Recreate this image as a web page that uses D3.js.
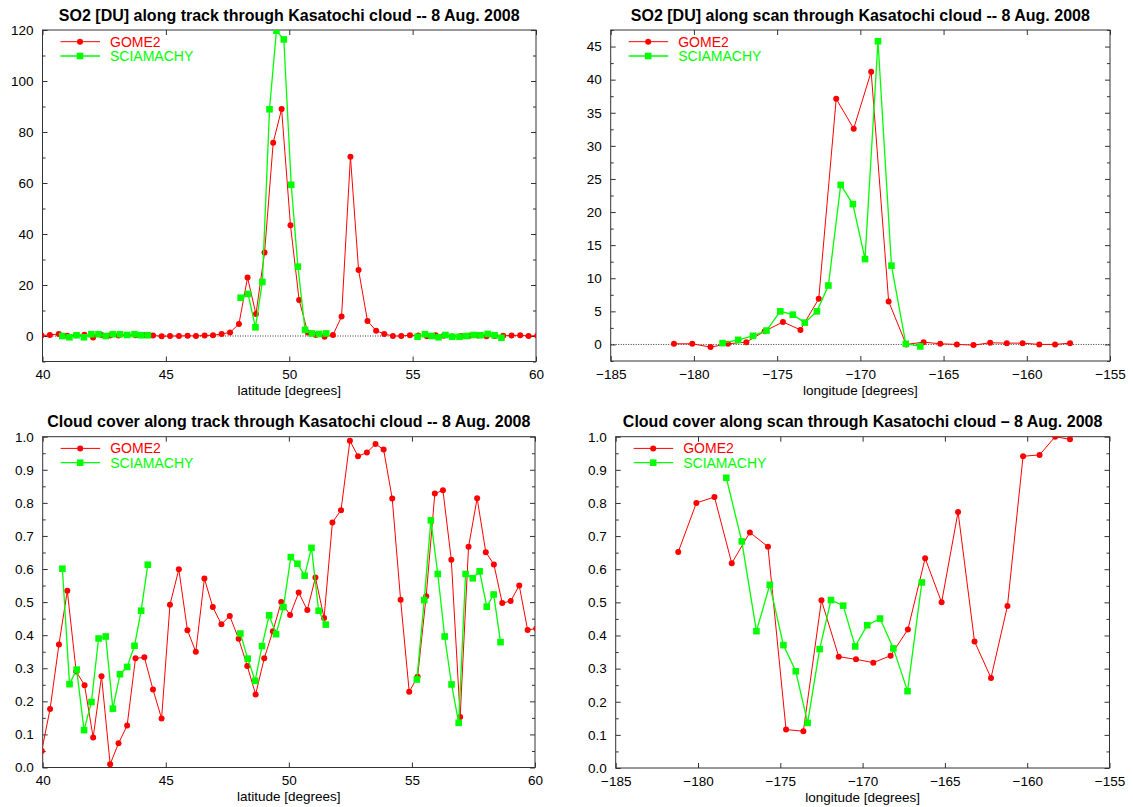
<!DOCTYPE html>
<html>
<head>
<meta charset="utf-8">
<script src="https://cdn.jsdelivr.net/npm/d3@7/dist/d3.min.js"></script>
<style>
  body { margin: 0; background: #fff; }
  text { font-family: "Liberation Sans", Arial, Helvetica, sans-serif; }
</style>
</head>
<body>
<svg id="chart" width="1133" height="807"></svg>
<script>
// ---- GOME2 along-track samples (latitude, SO2 [DU], cloud fraction) ----
const gomeTrackLat = [39.96, 40.30, 40.66, 41.00, 41.36, 41.70, 42.05, 42.39, 42.74, 43.08,
  43.43, 43.77, 44.13, 44.48, 44.83, 45.17, 45.53, 45.88, 46.22, 46.57,
  46.91, 47.26, 47.60, 47.96, 48.31, 48.65, 49.00, 49.35, 49.69, 50.05,
  50.40, 50.75, 51.08, 51.43, 51.77, 52.12, 52.48, 52.81, 53.17, 53.52,
  53.85, 54.20, 54.54, 54.89, 55.23, 55.58, 55.93, 56.26, 56.60, 56.96,
  57.30, 57.65, 58.00, 58.33, 58.67, 59.01, 59.36, 59.70, 60.05];
const gomeTrackSO2 = [0.2, 0.4, 0.8, 0.1, 0.3, 0.5, -0.6, 0.4, 0.2, 0.2,
  0.4, 0.3, 0.4, 0.2, -0.1, 0.0, 0.0, 0.1, 0.0, 0.2,
  0.3, 0.8, 1.4, 4.7, 22.9, 8.6, 32.7, 75.8, 89.0, 43.4,
  14.1, 1.4, 0.4, -0.3, 0.4, 7.6, 70.3, 25.9, 5.9, 2.1,
  0.8, 0.0, 0.0, 0.3, 0.2, -0.1, 0.3, 0.1, -0.2, 0.0,
  0.1, 0.2, -0.1, 0.0, 0.1, 0.2, 0.3, 0.0, 0.1];
const gomeTrackCloud = [0.05, 0.177, 0.372, 0.534, 0.29, 0.249, 0.091, 0.276, 0.010, 0.073,
  0.127, 0.330, 0.333, 0.236, 0.148, 0.492, 0.599, 0.415, 0.350, 0.571,
  0.485, 0.433, 0.458, 0.389, 0.307, 0.221, 0.330, 0.412, 0.500, 0.461,
  0.529, 0.476, 0.574, 0.452, 0.741, 0.778, 0.988, 0.941, 0.952, 0.978,
  0.961, 0.813, 0.507, 0.229, 0.274, 0.518, 0.828, 0.838, 0.628, 0.153,
  0.667, 0.814, 0.651, 0.614, 0.497, 0.503, 0.550, 0.416, 0.42];

// ---- SCIAMACHY along-track samples; null separates the three orbit segments ----
const sciaTrackLat = [40.80, 41.09, 41.38, 41.68, 41.98, 42.27, 42.56, 42.85, 43.14, 43.43, 43.73, 44.00, 44.27,
  null,
  48.03, 48.33, 48.63, 48.91, 49.20, 49.48, 49.78, 50.08, 50.35, 50.64, 50.92, 51.21, 51.50,
  null,
  55.20, 55.50, 55.77, 56.05, 56.33, 56.61, 56.90, 57.18, 57.47, 57.75, 58.04, 58.32, 58.60];
const sciaTrackSO2 = [0.0, -0.5, 0.3, -0.5, 0.7, 0.7, 0.0, 0.7, 0.7, 0.4, 0.7, 0.3, 0.3,
  null,
  15.0, 16.5, 3.4, 21.2, 88.9, 119.7, 116.3, 59.3, 27.2, 2.4, 1.0, 0.8, 1.0,
  null,
  -0.3, 0.7, 0.0, -0.5, 0.4, -0.3, -0.3, 0.0, 0.4, 0.3, 0.8, 0.3, -0.7];
const sciaTrackCloud = [0.601, 0.252, 0.296, 0.113, 0.198, 0.390, 0.396, 0.178, 0.282, 0.304, 0.368, 0.474, 0.613,
  null,
  0.405, 0.329, 0.262, 0.367, 0.460, 0.403, 0.485, 0.636, 0.616, 0.580, 0.664, 0.474, 0.432,
  null,
  0.266, 0.506, 0.747, 0.585, 0.396, 0.251, 0.135, 0.585, 0.572, 0.593, 0.486, 0.523, 0.379];

// ---- GOME2 along-scan samples (longitude) ----
const gomeScanLon = [-181.2, -180.1, -179.0, -177.95, -176.85, -175.75, -174.65, -173.6, -172.5, -171.45,
  -170.4, -169.35, -168.3, -167.25, -166.2, -165.2, -164.2, -163.2, -162.2, -161.2,
  -160.25, -159.25, -158.3, -157.4];
const gomeScanSO2 = [0.1, 0.1, -0.4, 0.1, 0.35, 2.0, 3.4, 2.2, 6.9, 37.1,
  32.6, 41.2, 6.5, 0.0, 0.35, 0.1, 0.0, -0.1, 0.25, 0.2,
  0.2, 0.0, 0.0, 0.2];
const gomeScanCloud = [0.652, 0.800, 0.818, 0.618, 0.711, 0.668, 0.116, 0.111, 0.506, 0.336,
  0.328, 0.318, 0.339, 0.418, 0.633, 0.500, 0.773, 0.382, 0.272, 0.489,
  0.941, 0.945, 1.000, 0.992];

// ---- SCIAMACHY along-scan samples ----
const sciaScanLon = [-178.28, -177.34, -176.45, -175.64, -174.81, -174.06, -173.34, -172.61,
  -171.92, -171.18, -170.45, -169.72, -168.94, -168.13, -167.27, -166.40];
const sciaScanSO2 = [0.2, 0.7, 1.3, 2.1, 5.0, 4.5, 3.3, 5.0, 8.9, 24.1, 21.2, 12.9, 45.8, 11.9, 0.1, -0.3];
const sciaScanCloud = [0.876, 0.684, 0.413, 0.553, 0.371, 0.292, 0.136, 0.359,
  0.507, 0.490, 0.367, 0.431, 0.451, 0.361, 0.232, 0.560];

// ---- axis tick values and labels ----
const latTicks = [40, 45, 50, 55, 60];
const lonTicks = [-185, -180, -175, -170, -165, -160, -155];
const so2TrackTicks = [0, 20, 40, 60, 80, 100, 120];
const so2TrackMinor = [-10, 10, 30, 50, 70, 90, 110];
const so2ScanTicks = [0, 5, 10, 15, 20, 25, 30, 35, 40, 45];
const so2ScanMinor = [-2.5, 2.5, 7.5, 12.5, 17.5, 22.5, 27.5, 32.5, 37.5, 42.5, 47.5];
const cloudTicks = [0, 0.1, 0.2, 0.3, 0.4, 0.5, 0.6, 0.7, 0.8, 0.9, 1.0];
const cloudMinor = [0.05, 0.15, 0.25, 0.35, 0.45, 0.55, 0.65, 0.75, 0.85, 0.95];

const seriesNames = ["GOME2", "SCIAMACHY"];
const seriesColors = ["#ff0000", "#00ff00"];

const svg = d3.select("#chart");

function zip(xs, ys) {
  return xs.map((v, i) => ({ x: v, y: ys[i] }));
}

function drawPanel(cfg, idx) {
  const x = d3.scaleLinear().domain(cfg.xDomain).range([cfg.left, cfg.right]);
  const y = d3.scaleLinear().domain(cfg.yDomain).range([cfg.bottom, cfg.top]);
  const g = svg.append("g");
  const clipId = "clip" + idx;

  g.append("clipPath").attr("id", clipId)
    .append("rect")
    .attr("x", cfg.left).attr("y", cfg.top)
    .attr("width", cfg.right - cfg.left).attr("height", cfg.bottom - cfg.top);

  // title
  g.append("text")
    .attr("x", (cfg.left + cfg.right) / 2).attr("y", cfg.top - 9.5)
    .attr("text-anchor", "middle")
    .style("font-size", "16px").style("font-weight", "bold")
    .text(cfg.title);

  // axes: labelled ticks on left/bottom, mirrored ticks on right/top, all pointing inward
  const tickFont = g => g.selectAll("text").style("font-size", "13.5px").attr("fill", "#000");
  const strip = a => a.call(s => s.select(".domain").remove())
    .call(s => s.selectAll("line").attr("stroke", "#333"));

  g.append("g").attr("transform", `translate(${cfg.left},0)`)
    .call(d3.axisLeft(y).tickValues(cfg.yTicks).tickSize(-5).tickPadding(9).tickFormat(cfg.yFormat))
    .call(strip).call(tickFont);
  g.append("g").attr("transform", `translate(${cfg.left},0)`)
    .call(d3.axisLeft(y).tickValues(cfg.yMinor).tickSize(-3).tickFormat(""))
    .call(strip);
  g.append("g").attr("transform", `translate(${cfg.right},0)`)
    .call(d3.axisRight(y).tickValues(cfg.yTicks).tickSize(-5).tickFormat(""))
    .call(strip);
  g.append("g").attr("transform", `translate(${cfg.right},0)`)
    .call(d3.axisRight(y).tickValues(cfg.yMinor).tickSize(-3).tickFormat(""))
    .call(strip);
  g.append("g").attr("transform", `translate(0,${cfg.bottom})`)
    .call(d3.axisBottom(x).tickValues(cfg.xTicks).tickSize(-5).tickPadding(8).tickFormat(d3.format("d")))
    .call(strip).call(tickFont)
    .call(s => s.selectAll("text").attr("dy", "0.71em"));
  g.append("g").attr("transform", `translate(0,${cfg.top})`)
    .call(d3.axisTop(x).tickValues(cfg.xTicks).tickSize(-5).tickFormat(""))
    .call(strip);

  // frame
  g.append("rect")
    .attr("x", cfg.left).attr("y", cfg.top)
    .attr("width", cfg.right - cfg.left).attr("height", cfg.bottom - cfg.top)
    .attr("fill", "none").attr("stroke", "#333").attr("stroke-width", 1);

  // x-axis title
  g.append("text")
    .attr("x", (cfg.left + cfg.right) / 2).attr("y", cfg.bottom + 33.5)
    .attr("text-anchor", "middle")
    .style("font-size", "13.5px")
    .text(cfg.xTitle);

  const plot = g.append("g").attr("clip-path", `url(#${clipId})`);

  if (cfg.zeroLine) {
    plot.append("line")
      .attr("x1", cfg.left).attr("x2", cfg.right)
      .attr("y1", y(0)).attr("y2", y(0))
      .attr("stroke", "#000").attr("stroke-width", 0.8)
      .attr("stroke-dasharray", "1,1.5");
  }

  const line = d3.line()
    .defined(d => d.x != null && d.y != null)
    .x(d => x(d.x)).y(d => y(d.y));

  cfg.series.forEach((s, si) => {
    const pts = zip(s.xs, s.ys);
    const color = seriesColors[si];
    plot.append("path")
      .datum(pts)
      .attr("d", line)
      .attr("fill", "none")
      .attr("stroke", color)
      .attr("stroke-width", si === 0 ? 1 : 1.3);
    const valid = pts.filter(d => d.x != null && d.y != null);
    if (si === 0) {
      plot.selectAll(null).data(valid).join("circle")
        .attr("cx", d => x(d.x)).attr("cy", d => y(d.y))
        .attr("r", 3).attr("fill", color);
    } else {
      plot.selectAll(null).data(valid).join("rect")
        .attr("x", d => x(d.x) - 3.3).attr("y", d => y(d.y) - 3.3)
        .attr("width", 6.6).attr("height", 6.6).attr("fill", color);
    }
  });

  // legend
  seriesNames.forEach((name, si) => {
    const ly = cfg.top + 11.7 + si * 14.3;
    const lx = cfg.left + 18;
    const color = seriesColors[si];
    g.append("line")
      .attr("x1", lx).attr("x2", lx + 39.5).attr("y1", ly).attr("y2", ly)
      .attr("stroke", color).attr("stroke-width", si === 0 ? 1 : 1.3);
    if (si === 0) {
      g.append("circle").attr("cx", lx + 19.5).attr("cy", ly).attr("r", 3).attr("fill", color);
    } else {
      g.append("rect").attr("x", lx + 19.5 - 3.3).attr("y", ly - 3.3)
        .attr("width", 6.6).attr("height", 6.6).attr("fill", color);
    }
    g.append("text")
      .attr("x", cfg.left + 67.5).attr("y", ly + 5)
      .attr("fill", color)
      .style("font-size", "14px")
      .text(name);
  });
}

const intFmt = d3.format("d");
const oneDec = d3.format(".1f");

const panels = [
  {
    title: "SO2 [DU] along track through Kasatochi cloud -- 8 Aug. 2008",
    xTitle: "latitude [degrees]",
    left: 42.5, right: 536, top: 30, bottom: 361.5,
    xDomain: [40, 60], yDomain: [-10, 120],
    xTicks: latTicks, yTicks: so2TrackTicks, yMinor: so2TrackMinor, yFormat: intFmt,
    zeroLine: true,
    series: [
      { xs: gomeTrackLat, ys: gomeTrackSO2 },
      { xs: sciaTrackLat, ys: sciaTrackSO2 }
    ]
  },
  {
    title: "SO2 [DU] along scan through Kasatochi cloud -- 8 Aug. 2008",
    xTitle: "longitude [degrees]",
    left: 610.7, right: 1110, top: 30, bottom: 361,
    xDomain: [-185, -155], yDomain: [-2.5, 47.5],
    xTicks: lonTicks, yTicks: so2ScanTicks, yMinor: so2ScanMinor, yFormat: intFmt,
    zeroLine: true,
    series: [
      { xs: gomeScanLon, ys: gomeScanSO2 },
      { xs: sciaScanLon, ys: sciaScanSO2 }
    ]
  },
  {
    title: "Cloud cover along track through Kasatochi cloud -- 8 Aug. 2008",
    xTitle: "latitude [degrees]",
    left: 42.7, right: 535, top: 436.7, bottom: 767.5,
    xDomain: [40, 60], yDomain: [0, 1],
    xTicks: latTicks, yTicks: cloudTicks, yMinor: cloudMinor, yFormat: oneDec,
    zeroLine: false,
    series: [
      { xs: gomeTrackLat, ys: gomeTrackCloud },
      { xs: sciaTrackLat, ys: sciaTrackCloud }
    ]
  },
  {
    title: "Cloud cover along scan through Kasatochi cloud \u2013 8 Aug. 2008",
    xTitle: "longitude [degrees]",
    left: 615.7, right: 1109.5, top: 436.7, bottom: 768,
    xDomain: [-185, -155], yDomain: [0, 1],
    xTicks: lonTicks, yTicks: cloudTicks, yMinor: cloudMinor, yFormat: oneDec,
    zeroLine: false,
    series: [
      { xs: gomeScanLon, ys: gomeScanCloud },
      { xs: sciaScanLon, ys: sciaScanCloud }
    ]
  }
];

panels.forEach(drawPanel);
</script>
</body>
</html>
